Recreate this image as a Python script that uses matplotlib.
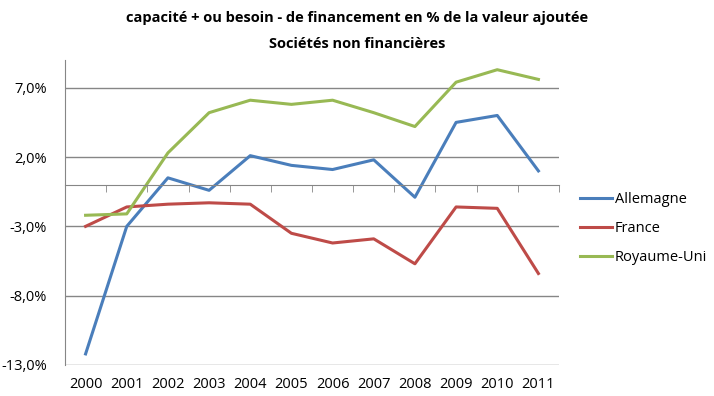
import numpy as np
import matplotlib.pyplot as plt
from matplotlib.ticker import FixedLocator, FuncFormatter

# Data (% of value added)
years = ['2000', '2001', '2002', '2003', '2004', '2005',
         '2006', '2007', '2008', '2009', '2010', '2011']
allemagne = [-12.2, -3.0, 0.5, -0.4, 2.1, 1.4, 1.1, 1.8, -0.9, 4.5, 5.0, 1.0]
france = [-3.0, -1.6, -1.4, -1.3, -1.4, -3.5, -4.2, -3.9, -5.7, -1.6, -1.7, -6.4]
royaume_uni = [-2.2, -2.1, 2.3, 5.2, 6.1, 5.8, 6.1, 5.2, 4.2, 7.4, 8.3, 7.6]

series = [('Allemagne', allemagne, '#4a7ebb'),
          ('France', france, '#be4b48'),
          ('Royaume-Uni', royaume_uni, '#98b954')]

plt.rcParams['font.family'] = ['Open Sans', 'DejaVu Sans']

fig = plt.figure(figsize=(7.14, 3.96), dpi=100)
ax = fig.add_axes([65 / 714, 1 - 365 / 396, (559 - 65) / 714, (365 - 60) / 396])

x = np.arange(len(years))
for name, vals, col in series:
    ax.plot(x, vals, color=col, lw=2.2, label=name, solid_joinstyle='round')

ax.set_xlim(-0.5, len(years) - 0.5)
ax.set_ylim(-13, 9)
ax.set_yticks([-13, -8, -3, 2, 7])
ax.yaxis.set_major_formatter(FuncFormatter(lambda v, p: f'{v:.1f}%'.replace('.', ',')))
ax.grid(axis='y', color='#868686', lw=1)
ax.set_axisbelow(True)
ax.tick_params(axis='y', length=0, labelsize=10.5, pad=13)

for s in ['top', 'right']:
    ax.spines[s].set_visible(False)
ax.spines['left'].set_color('#868686')
ax.spines['bottom'].set_position(('data', 0))
ax.spines['bottom'].set_color('#868686')
ax.xaxis.set_major_locator(FixedLocator([]))
ax.xaxis.set_minor_locator(FixedLocator(np.arange(-0.5, len(years), 1.0)))
ax.tick_params(axis='x', which='minor', length=5, color='#868686', direction='out')

# year labels along the bottom of the plot area
sec = ax.secondary_xaxis('bottom')
sec.set_xticks(x)
sec.set_xticklabels(years)
sec.spines['bottom'].set_visible(False)
sec.tick_params(length=0, labelsize=10.5, pad=9)

fig.suptitle('capacité + ou besoin - de financement en % de la valeur ajoutée\nSociétés non financières',
             fontsize=10.5, fontweight='bold', y=0.972, linespacing=2.1)

ax.legend(loc='upper left', bbox_to_anchor=(580 / 714, 1 - 192 / 396),
          bbox_transform=fig.transFigure, borderaxespad=0, borderpad=0,
          frameon=False, fontsize=10.5, handlelength=2.2, handletextpad=0.2,
          labelspacing=0.95)

fig.savefig('out.png', dpi=100)
